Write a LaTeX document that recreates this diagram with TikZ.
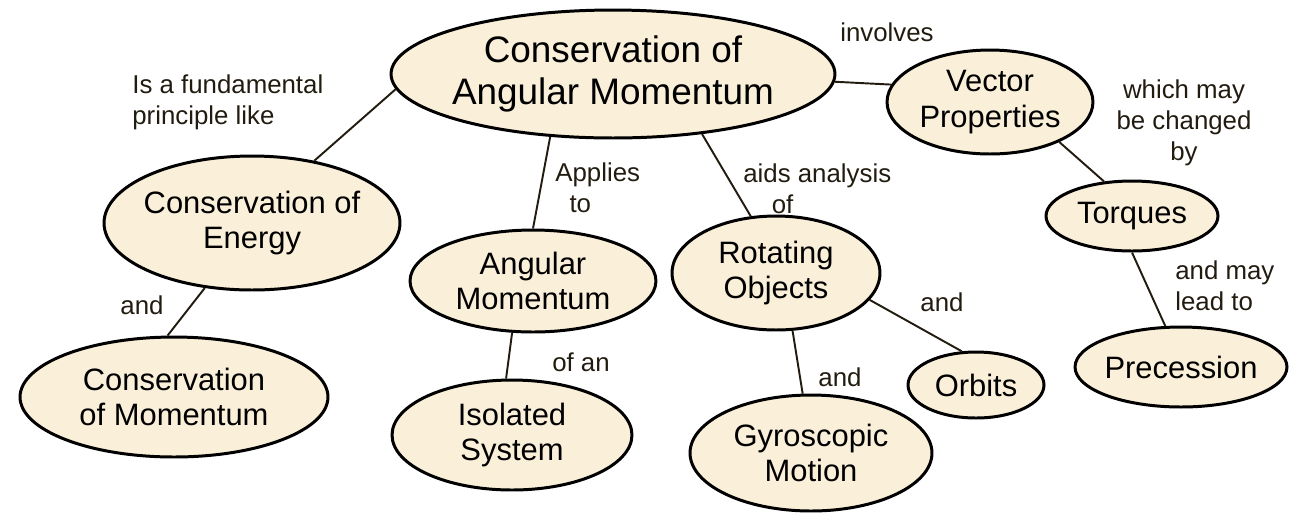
\documentclass[tikz,border=0pt]{standalone}
\usepackage{fontspec}
\setmainfont{Liberation Sans}
\usetikzlibrary{shapes.geometric}
\definecolor{cream}{HTML}{FAEFD9}
\definecolor{ink}{HTML}{221C10}
\begin{document}
\begin{tikzpicture}[x=0.02cm,y=-0.02cm,
  concept/.style={ellipse,draw=black,line width=1.7pt,fill=cream,inner sep=-2cm,align=center,
    font=\fontsize{17.6}{20.4}\selectfont},
  link/.style={draw=ink,line width=1.1pt},
  lbl/.style={text=ink,inner sep=0pt,font=\fontsize{14.7}{17.6}\selectfont}]
\useasboundingbox (0,0) rectangle (1301,512);

\node[concept,minimum width=8.88cm,minimum height=2.56cm,font=\fontsize{21}{24.4}\selectfont] (ang) at (613,74) {Conservation of\\Angular Momentum};
\node[concept,minimum width=4.12cm,minimum height=2.08cm] (vec) at (990,102) {Vector\\Properties};
\node[concept,minimum width=5.92cm,minimum height=2.68cm] (energy) at (252,223) {Conservation of\\Energy};
\node[concept,minimum width=6.16cm,minimum height=2.4cm] (momentum) at (174,397) {Conservation\\of Momentum};
\node[concept,minimum width=4.92cm,minimum height=2.04cm] (angmom) at (533,281) {Angular\\Momentum};
\node[concept,minimum width=4.8cm,minimum height=2.2cm] (isolated) at (512,435) {Isolated\\System};
\node[concept,minimum width=4.16cm,minimum height=2.28cm] (rotating) at (776,273) {Rotating\\Objects};
\node[concept,minimum width=4.84cm,minimum height=2.32cm] (gyro) at (811,453) {Gyroscopic\\Motion};
\node[concept,minimum width=2.72cm,minimum height=1.32cm] (orbits) at (976,385) {Orbits};
\node[concept,minimum width=3.44cm,minimum height=1.4cm] (torques) at (1132,216) {Torques};
\node[concept,minimum width=4.24cm,minimum height=1.6cm] (precession) at (1181,367) {Precession};

\draw[link] (ang.184) -- (energy.45);
\draw[link] (ang.358) -- (vec.170);
\draw[link] (ang.225) -- (angmom.90);
\draw[link] (ang.326) -- (rotating.114);
\draw[link] (vec.330) -- (torques.129);
\draw[link] (torques.270) -- (precession.111);
\draw[link] (energy.234) -- (momentum.96);
\draw[link] (angmom.248) -- (isolated.96);
\draw[link] (rotating.286) -- (gyro.98);
\draw[link] (rotating.344) -- (orbits.113);

\node[lbl,anchor=west,align=left] (fund) at (132,102) {Is a fundamental\\principle like};
\node[lbl] (inv) at (887,32) {involves};
\node[lbl,anchor=west,align=left] (app) at (555,188) {Applies\\\hspace*{0.55em}to};
\node[lbl,anchor=west,align=left] (aids) at (743,189) {aids analysis\\\hspace*{1.1em}of};
\node[lbl,align=center] (chg) at (1184,123) {which may\\be changed\\by};
\node[lbl,anchor=west,align=left] (lead) at (1175,286) {and may\\lead to};
\node[lbl] (and1) at (142,305) {and};
\node[lbl] (ofan) at (581,362) {of an};
\node[lbl] (and2) at (942,302) {and};
\node[lbl] (and3) at (840,377) {and};
\end{tikzpicture}
\end{document}
